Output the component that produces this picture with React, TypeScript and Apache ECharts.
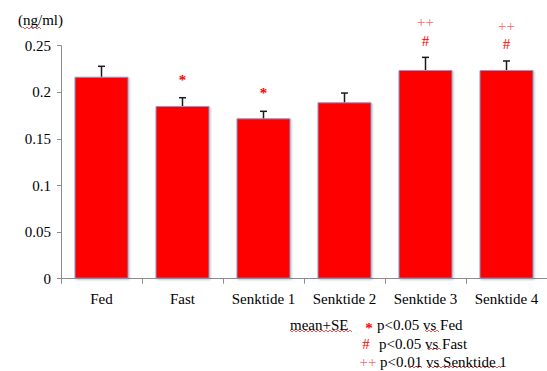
import React, { useEffect, useRef } from "react";
import * as echarts from "echarts";

const categories = ["Fed", "Fast", "Senktide 1", "Senktide 2", "Senktide 3", "Senktide 4"];
const means = [0.2167, 0.1853, 0.1721, 0.1893, 0.2239, 0.2239];
const errors = [0.0112, 0.0089, 0.0075, 0.0099, 0.0136, 0.0097];
const starMarks = ["", "*", "*", "", "", ""];
const hashMarks = ["", "", "", "", "#", "#"];
const plusMarks = ["", "", "", "", "++", "++"];
const yTickLabels = ["0", "0.05", "0.1", "0.15", "0.2", "0.25"];
const unitLabel = "(ng/ml)";
const legendNote = "mean+SE";
const legendItems = [
  { mark: "*", text: "p<0.05 vs Fed" },
  { mark: "#", text: "p<0.05 vs Fast" },
  { mark: "++", text: "p<0.01 vs Senktide 1" },
];

const FONT = "Liberation Serif";

function squiggle(x1: number, x2: number, y: number) {
  const pts: number[][] = [];
  let up = true;
  for (let x = x1; x <= x2; x += 2) {
    pts.push([x, up ? y - 1 : y + 1]);
    up = !up;
  }
  return {
    type: "polyline",
    shape: { points: pts },
    style: { stroke: "#e03030", lineWidth: 0.8, fill: null },
    silent: true,
  };
}

export default function App() {
  const ref = useRef<HTMLDivElement>(null);
  useEffect(() => {
    if (!ref.current) return;
    const chart = echarts.init(ref.current, undefined, { renderer: "svg" });
    const errData = means.map((m, i) => [i, m, errors[i]]);
    const annData = means.map((m, i) => [i, m + errors[i]]);
    const legendY = [325, 343.5, 361.5];
    const markX = [369, 366, 368];
    const textX = [377, 379, 380];
    const graphic: any[] = [
      {
        type: "text",
        x: 18,
        y: 20,
        style: { text: unitLabel, fontFamily: FONT, fontSize: 15, fill: "#000", verticalAlign: "middle" },
      },
      squiggle(23, 41, 28),
      {
        type: "text",
        x: 290,
        y: legendY[0],
        style: { text: legendNote, fontFamily: FONT, fontSize: 15, fill: "#000", verticalAlign: "middle" },
      },
      squiggle(290, 352, 331),
      squiggle(425, 439, 331),
      squiggle(427, 441, 349),
      squiggle(408, 422, 367),
      squiggle(427, 502, 367),
    ];
    legendItems.forEach((it, k) => {
      graphic.push({
        type: "text",
        x: markX[k],
        y: legendY[k] + (it.mark === "*" ? 3 : 0),
        style: {
          text: it.mark,
          fontFamily: FONT,
          fontSize: 15,
          fontWeight: it.mark === "*" ? "bold" : "normal",
          fill: it.mark === "++" ? "#ff6a6a" : "#ff0000",
          align: "center",
          verticalAlign: "middle",
        },
      });
      graphic.push({
        type: "text",
        x: textX[k],
        y: legendY[k],
        style: { text: it.text, fontFamily: FONT, fontSize: 15, fill: "#000", verticalAlign: "middle" },
      });
    });

    chart.setOption({
      animation: false,
      backgroundColor: "#fff",
      grid: { left: 61, top: 45.7, width: 489.6, height: 233, containLabel: false },
      xAxis: {
        type: "category",
        data: categories,
        boundaryGap: true,
        axisLine: { lineStyle: { color: "#8c8c8c", width: 1 } },
        axisTick: { show: true, length: 5, alignWithLabel: false, lineStyle: { color: "#8c8c8c" } },
        axisLabel: { color: "#000", fontFamily: FONT, fontSize: 15, margin: 13, interval: 0 },
      },
      yAxis: {
        type: "value",
        min: 0,
        max: 0.25,
        interval: 0.05,
        splitLine: { show: false },
        axisLine: { show: true, lineStyle: { color: "#8c8c8c", width: 1 } },
        axisTick: { show: true, length: 4, lineStyle: { color: "#8c8c8c" } },
        axisLabel: {
          color: "#000",
          fontFamily: FONT,
          fontSize: 15,
          margin: 10,
          formatter: (_v: number, i: number) => yTickLabels[i],
        },
      },
      series: [
        {
          type: "bar",
          data: means,
          barWidth: 54,
          itemStyle: {
            color: "#ff0000",
            borderColor: "#7f9fd3",
            borderWidth: 1,
            shadowColor: "rgba(0,0,0,0.25)",
            shadowBlur: 2,
            shadowOffsetX: 1,
            shadowOffsetY: 1,
          },
          z: 2,
        },
        {
          type: "custom",
          data: errData,
          z: 3,
          renderItem: (params: any, api: any) => {
            const i = api.value(0);
            const m = api.value(1);
            const e = api.value(2);
            const b = api.coord([i, m]);
            const t = api.coord([i, m + e]);
            const style = { stroke: "#1a1a1a", lineWidth: 1.5 };
            return {
              type: "group",
              children: [
                { type: "line", shape: { x1: b[0], y1: b[1], x2: t[0], y2: t[1] }, style },
                { type: "line", shape: { x1: t[0] - 3.5, y1: t[1], x2: t[0] + 3.5, y2: t[1] }, style },
              ],
            };
          },
        },
        {
          type: "custom",
          data: annData,
          z: 4,
          clip: false,
          renderItem: (params: any, api: any) => {
            const idx = params.dataIndex;
            const i = api.value(0);
            const v = api.value(1);
            const p = api.coord([i, v]);
            const children: any[] = [];
            if (starMarks[idx]) {
              children.push({
                type: "text",
                x: p[0],
                y: p[1] - 18,
                style: { text: starMarks[idx], fontFamily: FONT, fontSize: 15, fontWeight: "bold", fill: "#ff0000", align: "center", verticalAlign: "middle" },
              });
            }
            if (hashMarks[idx]) {
              children.push({
                type: "text",
                x: p[0],
                y: p[1] - 16.5,
                style: { text: hashMarks[idx], fontFamily: FONT, fontSize: 15, fill: "#ff0000", align: "center", verticalAlign: "middle" },
              });
            }
            if (plusMarks[idx]) {
              children.push({
                type: "text",
                x: p[0],
                y: p[1] - 35,
                style: { text: plusMarks[idx], fontFamily: FONT, fontSize: 15, fill: "#ff6a6a", align: "center", verticalAlign: "middle" },
              });
            }
            return { type: "group", children };
          },
        },
      ],
      graphic,
    });
    return () => chart.dispose();
  }, []);
  return <div ref={ref} style={{ position: "fixed", left: 0, top: 0, width: 547, height: 371 }} />;
}
